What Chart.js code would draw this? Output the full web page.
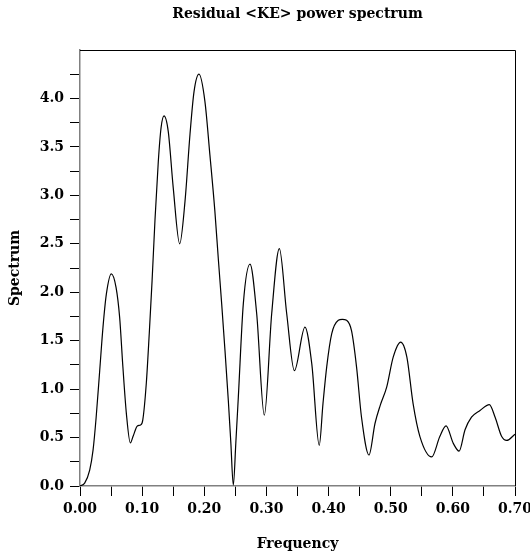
<!DOCTYPE html>
<html>
<head>
<meta charset="utf-8">
<script src="https://cdn.jsdelivr.net/npm/chart.js@4.4.1/dist/chart.umd.min.js"></script>
<style>
    html, body { margin: 0; padding: 0; background: #fff; }
    #wrap { width: 530px; height: 555px; }
</style>
</head>
<body>
<div id="wrap"><canvas id="spectrumChart" width="530" height="555"></canvas></div>
<script>
// values
const frequency = [
    0, 0.0075, 0.0156, 0.021, 0.026, 0.0317, 0.037, 0.0424, 0.0504, 0.058,
    0.0638, 0.069, 0.0746, 0.081, 0.0853, 0.0923, 0.0976, 0.101, 0.1067, 0.1115,
    0.116, 0.1207, 0.126, 0.1305, 0.1352, 0.142, 0.150, 0.1604, 0.169, 0.177,
    0.1835, 0.1915, 0.201, 0.209, 0.217, 0.2225, 0.228, 0.2333, 0.2387, 0.2427,
    0.2467, 0.2508, 0.2548, 0.2628, 0.2736, 0.2843, 0.2966, 0.3085, 0.3208, 0.3326,
    0.345, 0.362, 0.373, 0.385, 0.391, 0.397, 0.405, 0.4157, 0.422, 0.429,
    0.437, 0.445, 0.453, 0.465, 0.4747, 0.483, 0.4935, 0.504, 0.516, 0.526,
    0.536, 0.547, 0.566, 0.579, 0.589, 0.6007, 0.610, 0.6196, 0.630, 0.6437,
    0.6587, 0.668, 0.6786, 0.6866, 0.70
];
const spectrum = [
    0, 0.03, 0.165, 0.37, 0.71, 1.19, 1.64, 1.98, 2.19, 2.05,
    1.74, 1.23, 0.75, 0.445, 0.51, 0.62, 0.63, 0.68, 1.06, 1.58,
    2.12, 2.75, 3.35, 3.70, 3.82, 3.66, 3.08, 2.50, 2.94, 3.63,
    4.07, 4.25, 3.97, 3.42, 2.84, 2.35, 1.88, 1.40, 0.88, 0.45,
    0.01, 0.45, 0.92, 1.88, 2.29, 1.78, 0.73, 1.78, 2.45, 1.78,
    1.19, 1.64, 1.26, 0.42, 0.85, 1.23, 1.57, 1.71, 1.72, 1.71,
    1.60, 1.23, 0.71, 0.32, 0.645, 0.83, 1.02, 1.33, 1.485, 1.33,
    0.85, 0.51, 0.30, 0.51, 0.62, 0.44, 0.36, 0.58, 0.71, 0.78,
    0.84, 0.71, 0.51, 0.47, 0.535
];
const xTickLabels = ["0.00", "0.10", "0.20", "0.30", "0.40", "0.50", "0.60", "0.70"];
const yTickLabels = ["0.0", "0.5", "1.0", "1.5", "2.0", "2.5", "3.0", "3.5", "4.0"];

const labelFont = { family: "DejaVu Serif", size: 14, weight: "bold" };

const points = frequency.map((f, i) => ({ x: f, y: spectrum[i] }));

// top and right edges of the box
const framePlugin = {
    id: "frame",
    afterDraw(chart) {
        const a = chart.chartArea;
        const ctx = chart.ctx;
        ctx.save();
        ctx.strokeStyle = "#000";
        ctx.lineWidth = 1;
        ctx.beginPath();
        ctx.moveTo(a.left, a.top + 0.5);
        ctx.lineTo(a.right + 0.5, a.top + 0.5);
        ctx.lineTo(a.right + 0.5, a.bottom);
        ctx.stroke();
        ctx.restore();
    }
};

new Chart(document.getElementById("spectrumChart"), {
    type: "line",
    data: {
        datasets: [{
            data: points,
            borderColor: "#000",
            borderWidth: 1.2,
            pointRadius: 0,
            fill: false,
            cubicInterpolationMode: "monotone"
        }]
    },
    options: {
        responsive: false,
        animation: false,
        devicePixelRatio: 1,
        layout: { padding: { top: 0, right: 15, bottom: 0, left: 0 } },
        plugins: {
            legend: { display: false },
            tooltip: { enabled: false },
            title: {
                display: true,
                fullSize: false,
                text: "Residual <KE> power spectrum",
                color: "#000",
                font: { family: "DejaVu Serif", size: 14, weight: "bold" },
                padding: { top: 6, bottom: 27.2 }
            }
        },
        scales: {
            x: {
                type: "linear",
                min: 0,
                max: 0.7,
                border: { color: "#808080", width: 1.5 },
                grid: { drawOnChartArea: false, tickLength: 10, tickColor: "#000", tickWidth: 1 },
                ticks: {
                    stepSize: 0.05,
                    autoSkip: false,
                    maxRotation: 0,
                    padding: 5,
                    color: "#000",
                    font: labelFont,
                    callback: (v) => {
                        const k = Math.round(v * 100);
                        return k % 10 === 0 ? xTickLabels[k / 10] : "";
                    }
                },
                title: {
                    display: true,
                    text: "Frequency",
                    color: "#000",
                    font: labelFont,
                    padding: { top: 4, bottom: 2 }
                },
                afterFit: (s) => {
                    s.height = 69;
                    s.paddingLeft = 0;
                    s.paddingRight = 0;
                }
            },
            y: {
                min: 0,
                max: 4.5,
                border: { color: "#808080", width: 1.5 },
                grid: {
                    drawOnChartArea: false,
                    tickLength: 10,
                    tickWidth: 1,
                    tickColor: (c) => (c.tick && c.tick.value > 4.4 ? "rgba(0,0,0,0)" : "#000")
                },
                ticks: {
                    stepSize: 0.25,
                    autoSkip: false,
                    padding: 6,
                    color: "#000",
                    font: labelFont,
                    callback: (v) => {
                        const k = Math.round(v * 100);
                        return k % 50 === 0 && k < 450 ? yTickLabels[k / 50] : "";
                    }
                },
                title: {
                    display: true,
                    text: "Spectrum",
                    color: "#000",
                    font: labelFont,
                    padding: { top: 7, bottom: 4 }
                },
                afterFit: (s) => {
                    s.width = 80;
                    s.paddingTop = 0;
                    s.paddingBottom = 0;
                }
            }
        }
    },
    plugins: [framePlugin]
});
</script>
</body>
</html>
